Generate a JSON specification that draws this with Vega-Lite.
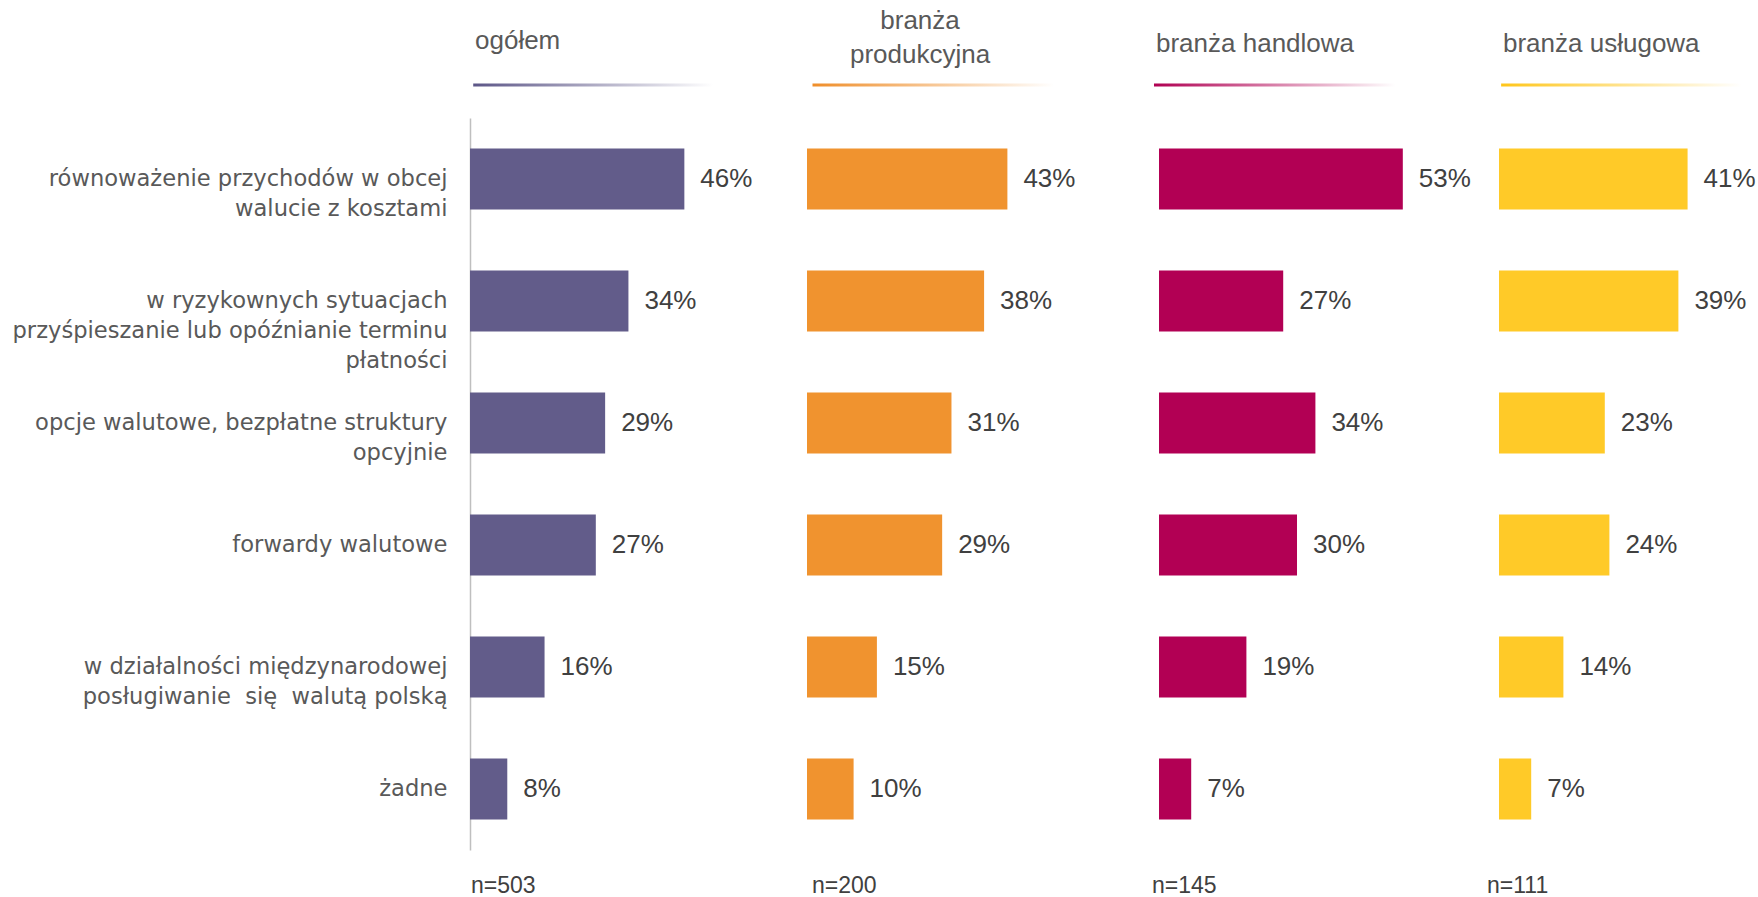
{
  "$schema": "https://vega.github.io/schema/vega-lite/v6.json",
  "background": "white",
  "padding": {"left": 12, "top": 7, "right": 0, "bottom": 0},
  "spacing": 0,
  "config": {"view": {"stroke": null}, "font": "Liberation Sans"},
  "resolve": {"scale": {"x": "independent"}},
  "datasets": {
    "rows": [
      {"group": "ogółem", "cat": "równoważenie przychodów w obcej\nwalucie z kosztami", "value": 0.46},
      {"group": "ogółem", "cat": "w ryzykownych sytuacjach\nprzyśpieszanie lub opóźnianie terminu\npłatności", "value": 0.34},
      {"group": "ogółem", "cat": "opcje walutowe, bezpłatne struktury\nopcyjnie", "value": 0.29},
      {"group": "ogółem", "cat": "forwardy walutowe", "value": 0.27},
      {"group": "ogółem", "cat": "w działalności międzynarodowej\nposługiwanie\u00a0 się\u00a0 walutą polską", "value": 0.16},
      {"group": "ogółem", "cat": "żadne", "value": 0.08},
      {"group": "branża produkcyjna", "cat": "równoważenie przychodów w obcej\nwalucie z kosztami", "value": 0.43},
      {"group": "branża produkcyjna", "cat": "w ryzykownych sytuacjach\nprzyśpieszanie lub opóźnianie terminu\npłatności", "value": 0.38},
      {"group": "branża produkcyjna", "cat": "opcje walutowe, bezpłatne struktury\nopcyjnie", "value": 0.31},
      {"group": "branża produkcyjna", "cat": "forwardy walutowe", "value": 0.29},
      {"group": "branża produkcyjna", "cat": "w działalności międzynarodowej\nposługiwanie\u00a0 się\u00a0 walutą polską", "value": 0.15},
      {"group": "branża produkcyjna", "cat": "żadne", "value": 0.10},
      {"group": "branża handlowa", "cat": "równoważenie przychodów w obcej\nwalucie z kosztami", "value": 0.53},
      {"group": "branża handlowa", "cat": "w ryzykownych sytuacjach\nprzyśpieszanie lub opóźnianie terminu\npłatności", "value": 0.27},
      {"group": "branża handlowa", "cat": "opcje walutowe, bezpłatne struktury\nopcyjnie", "value": 0.34},
      {"group": "branża handlowa", "cat": "forwardy walutowe", "value": 0.30},
      {"group": "branża handlowa", "cat": "w działalności międzynarodowej\nposługiwanie\u00a0 się\u00a0 walutą polską", "value": 0.19},
      {"group": "branża handlowa", "cat": "żadne", "value": 0.07},
      {"group": "branża usługowa", "cat": "równoważenie przychodów w obcej\nwalucie z kosztami", "value": 0.41},
      {"group": "branża usługowa", "cat": "w ryzykownych sytuacjach\nprzyśpieszanie lub opóźnianie terminu\npłatności", "value": 0.39},
      {"group": "branża usługowa", "cat": "opcje walutowe, bezpłatne struktury\nopcyjnie", "value": 0.23},
      {"group": "branża usługowa", "cat": "forwardy walutowe", "value": 0.24},
      {"group": "branża usługowa", "cat": "w działalności międzynarodowej\nposługiwanie\u00a0 się\u00a0 walutą polską", "value": 0.14},
      {"group": "branża usługowa", "cat": "żadne", "value": 0.07}
    ],
    "heads": [
      {"group": "ogółem", "head": "ogółem", "n": "n=503"},
      {"group": "branża produkcyjna", "head": "branża\nprodukcyjna", "n": "n=200"},
      {"group": "branża handlowa", "head": "branża handlowa", "n": "n=145"},
      {"group": "branża usługowa", "head": "branża usługowa", "n": "n=111"}
    ]
  },
  "hconcat": [
    {
      "width": 337, "height": 732,
      "layer": [
        {
          "data": {"name": "rows"},
          "transform": [{"filter": "datum.group === 'ogółem'"}],
          "mark": {"type": "bar", "color": "#625C8A"},
          "encoding": {
            "y": {"field": "cat", "type": "nominal", "sort": null,
              "scale": {"domain": ["równoważenie przychodów w obcej\nwalucie z kosztami", "w ryzykownych sytuacjach\nprzyśpieszanie lub opóźnianie terminu\npłatności", "opcje walutowe, bezpłatne struktury\nopcyjnie", "forwardy walutowe", "w działalności międzynarodowej\nposługiwanie\u00a0 się\u00a0 walutą polską", "żadne"], "paddingInner": 0.5, "paddingOuter": 0.25},
              "axis": {"title": null, "ticks": false, "grid": false, "domainColor": "#BFBFBF", "domainWidth": 1.5, "labelFont": "DejaVu Sans", "labelFontSize": 22.6, "labelColor": "#595959", "labelPadding": 23, "labelLimit": 0, "labelLineHeight": 30, "labelExpr": "split(datum.label, '\\n')"}},
            "x": {"field": "value", "type": "quantitative", "scale": {"domain": [0, 0.7232], "nice": false, "zero": true}, "axis": null}
          }
        },
        {
          "data": {"name": "rows"},
          "transform": [{"filter": "datum.group === 'ogółem'"}],
          "mark": {"type": "text", "align": "left", "baseline": "middle", "dx": 16, "font": "Liberation Sans", "fontSize": 26, "color": "#404040"},
          "encoding": {
            "y": {"field": "cat", "type": "nominal", "sort": null, "axis": {"title": null, "ticks": false, "grid": false, "domainColor": "#BFBFBF", "domainWidth": 1.5, "labelFont": "DejaVu Sans", "labelFontSize": 22.6, "labelColor": "#595959", "labelPadding": 23, "labelLimit": 0, "labelLineHeight": 30, "labelExpr": "split(datum.label, '\\n')"}},
            "x": {"field": "value", "type": "quantitative", "axis": null},
            "text": {"field": "value", "type": "quantitative", "format": ".0%"}
          }
        },
        {
          "data": {"name": "heads"},
          "transform": [{"filter": "datum.group === 'ogółem'"}],
          "mark": {"type": "text", "align": "left", "baseline": "middle", "dx": 5, "font": "Liberation Sans", "fontSize": 26, "color": "#595959", "lineBreak": "\n", "lineHeight": 34},
          "encoding": {
            "y": {"datum": "równoważenie przychodów w obcej\nwalucie z kosztami", "type": "nominal", "bandPosition": -1.762, "axis": {"title": null, "ticks": false, "grid": false, "domainColor": "#BFBFBF", "domainWidth": 1.5, "labelFont": "DejaVu Sans", "labelFontSize": 22.6, "labelColor": "#595959", "labelPadding": 23, "labelLimit": 0, "labelLineHeight": 30, "labelExpr": "split(datum.label, '\\n')"}},
            "x": {"datum": 0, "type": "quantitative", "axis": null},
            "text": {"field": "head", "type": "nominal"}
          }
        },
        {
          "data": {"name": "heads"},
          "transform": [{"filter": "datum.group === 'ogółem'"}],
          "mark": {"type": "rect", "fill": {"gradient": "linear", "x1": 0, "x2": 1, "y1": 0, "y2": 0, "stops": [{"offset": 0, "color": "#5C5687"}, {"offset": 1, "color": "#ffffff"}]}},
          "encoding": {
            "y": {"datum": "równoważenie przychodów w obcej\nwalucie z kosztami", "type": "nominal", "bandPosition": -1.066, "axis": {"title": null, "ticks": false, "grid": false, "domainColor": "#BFBFBF", "domainWidth": 1.5, "labelFont": "DejaVu Sans", "labelFontSize": 22.6, "labelColor": "#595959", "labelPadding": 23, "labelLimit": 0, "labelLineHeight": 30, "labelExpr": "split(datum.label, '\\n')"}},
            "y2": {"datum": "równoważenie przychodów w obcej\nwalucie z kosztami", "bandPosition": -1.016},
            "x": {"datum": 0.0069, "type": "quantitative", "axis": null},
            "x2": {"datum": 0.5215}
          }
        },
        {
          "data": {"name": "heads"},
          "transform": [{"filter": "datum.group === 'ogółem'"}],
          "mark": {"type": "text", "align": "left", "baseline": "middle", "dx": 1, "font": "Liberation Sans", "fontSize": 23, "color": "#404040"},
          "encoding": {
            "y": {"datum": "żadne", "type": "nominal", "bandPosition": 2.082, "axis": {"title": null, "ticks": false, "grid": false, "domainColor": "#BFBFBF", "domainWidth": 1.5, "labelFont": "DejaVu Sans", "labelFontSize": 22.6, "labelColor": "#595959", "labelPadding": 23, "labelLimit": 0, "labelLineHeight": 30, "labelExpr": "split(datum.label, '\\n')"}},
            "x": {"datum": 0, "type": "quantitative", "axis": null},
            "text": {"field": "n", "type": "nominal"}
          }
        }
      ]
    },
    {
      "width": 345, "height": 732,
      "layer": [
        {
          "data": {"name": "rows"},
          "transform": [{"filter": "datum.group === 'branża produkcyjna'"}],
          "mark": {"type": "bar", "color": "#F0932F"},
          "encoding": {
            "y": {"field": "cat", "type": "nominal", "sort": null,
              "scale": {"domain": ["równoważenie przychodów w obcej\nwalucie z kosztami", "w ryzykownych sytuacjach\nprzyśpieszanie lub opóźnianie terminu\npłatności", "opcje walutowe, bezpłatne struktury\nopcyjnie", "forwardy walutowe", "w działalności międzynarodowej\nposługiwanie\u00a0 się\u00a0 walutą polską", "żadne"], "paddingInner": 0.5, "paddingOuter": 0.25},
              "axis": null},
            "x": {"field": "value", "type": "quantitative", "scale": {"domain": [0, 0.7403], "nice": false, "zero": true}, "axis": null}
          }
        },
        {
          "data": {"name": "rows"},
          "transform": [{"filter": "datum.group === 'branża produkcyjna'"}],
          "mark": {"type": "text", "align": "left", "baseline": "middle", "dx": 16, "font": "Liberation Sans", "fontSize": 26, "color": "#404040"},
          "encoding": {
            "y": {"field": "cat", "type": "nominal", "sort": null, "axis": null},
            "x": {"field": "value", "type": "quantitative", "axis": null},
            "text": {"field": "value", "type": "quantitative", "format": ".0%"}
          }
        },
        {
          "data": {"name": "heads"},
          "transform": [{"filter": "datum.group === 'branża produkcyjna'"}],
          "mark": {"type": "text", "align": "center", "baseline": "middle", "font": "Liberation Sans", "fontSize": 26, "color": "#595959", "lineBreak": "\n", "lineHeight": 34},
          "encoding": {
            "y": {"datum": "równoważenie przychodów w obcej\nwalucie z kosztami", "type": "nominal", "bandPosition": -2.098, "axis": null},
            "x": {"datum": 0.2425, "type": "quantitative", "axis": null},
            "text": {"field": "head", "type": "nominal"}
          }
        },
        {
          "data": {"name": "heads"},
          "transform": [{"filter": "datum.group === 'branża produkcyjna'"}],
          "mark": {"type": "rect", "fill": {"gradient": "linear", "x1": 0, "x2": 1, "y1": 0, "y2": 0, "stops": [{"offset": 0, "color": "#EF8E2A"}, {"offset": 1, "color": "#ffffff"}]}},
          "encoding": {
            "y": {"datum": "równoważenie przychodów w obcej\nwalucie z kosztami", "type": "nominal", "bandPosition": -1.066, "axis": null},
            "y2": {"datum": "równoważenie przychodów w obcej\nwalucie z kosztami", "bandPosition": -1.016},
            "x": {"datum": 0.0118, "type": "quantitative", "axis": null},
            "x2": {"datum": 0.530}
          }
        },
        {
          "data": {"name": "heads"},
          "transform": [{"filter": "datum.group === 'branża produkcyjna'"}],
          "mark": {"type": "text", "align": "left", "baseline": "middle", "dx": 5, "font": "Liberation Sans", "fontSize": 23, "color": "#404040"},
          "encoding": {
            "y": {"datum": "żadne", "type": "nominal", "bandPosition": 2.082, "axis": null},
            "x": {"datum": 0, "type": "quantitative", "axis": null},
            "text": {"field": "n", "type": "nominal"}
          }
        }
      ]
    },
    {
      "width": 328, "height": 732,
      "layer": [
        {
          "data": {"name": "rows"},
          "transform": [{"filter": "datum.group === 'branża handlowa'"}],
          "mark": {"type": "bar", "color": "#B20054"},
          "encoding": {
            "y": {"field": "cat", "type": "nominal", "sort": null,
              "scale": {"domain": ["równoważenie przychodów w obcej\nwalucie z kosztami", "w ryzykownych sytuacjach\nprzyśpieszanie lub opóźnianie terminu\npłatności", "opcje walutowe, bezpłatne struktury\nopcyjnie", "forwardy walutowe", "w działalności międzynarodowej\nposługiwanie\u00a0 się\u00a0 walutą polską", "żadne"], "paddingInner": 0.5, "paddingOuter": 0.25},
              "axis": null},
            "x": {"field": "value", "type": "quantitative", "scale": {"domain": [0, 0.7130], "nice": false, "zero": true}, "axis": null}
          }
        },
        {
          "data": {"name": "rows"},
          "transform": [{"filter": "datum.group === 'branża handlowa'"}],
          "mark": {"type": "text", "align": "left", "baseline": "middle", "dx": 16, "font": "Liberation Sans", "fontSize": 26, "color": "#404040"},
          "encoding": {
            "y": {"field": "cat", "type": "nominal", "sort": null, "axis": null},
            "x": {"field": "value", "type": "quantitative", "axis": null},
            "text": {"field": "value", "type": "quantitative", "format": ".0%"}
          }
        },
        {
          "data": {"name": "heads"},
          "transform": [{"filter": "datum.group === 'branża handlowa'"}],
          "mark": {"type": "text", "align": "left", "baseline": "middle", "dx": -3, "font": "Liberation Sans", "fontSize": 26, "color": "#595959", "lineBreak": "\n", "lineHeight": 34},
          "encoding": {
            "y": {"datum": "równoważenie przychodów w obcej\nwalucie z kosztami", "type": "nominal", "bandPosition": -1.713, "axis": null},
            "x": {"datum": 0, "type": "quantitative", "axis": null},
            "text": {"field": "head", "type": "nominal"}
          }
        },
        {
          "data": {"name": "heads"},
          "transform": [{"filter": "datum.group === 'branża handlowa'"}],
          "mark": {"type": "rect", "fill": {"gradient": "linear", "x1": 0, "x2": 1, "y1": 0, "y2": 0, "stops": [{"offset": 0, "color": "#B00052"}, {"offset": 1, "color": "#ffffff"}]}},
          "encoding": {
            "y": {"datum": "równoważenie przychodów w obcej\nwalucie z kosztami", "type": "nominal", "bandPosition": -1.066, "axis": null},
            "y2": {"datum": "równoważenie przychodów w obcej\nwalucie z kosztami", "bandPosition": -1.016},
            "x": {"datum": -0.0109, "type": "quantitative", "axis": null},
            "x2": {"datum": 0.514}
          }
        },
        {
          "data": {"name": "heads"},
          "transform": [{"filter": "datum.group === 'branża handlowa'"}],
          "mark": {"type": "text", "align": "left", "baseline": "middle", "dx": -7, "font": "Liberation Sans", "fontSize": 23, "color": "#404040"},
          "encoding": {
            "y": {"datum": "żadne", "type": "nominal", "bandPosition": 2.082, "axis": null},
            "x": {"datum": 0, "type": "quantitative", "axis": null},
            "text": {"field": "n", "type": "nominal"}
          }
        }
      ]
    },
    {
      "width": 258, "height": 732,
      "layer": [
        {
          "data": {"name": "rows"},
          "transform": [{"filter": "datum.group === 'branża usługowa'"}],
          "mark": {"type": "bar", "color": "#FFCA28"},
          "encoding": {
            "y": {"field": "cat", "type": "nominal", "sort": null,
              "scale": {"domain": ["równoważenie przychodów w obcej\nwalucie z kosztami", "w ryzykownych sytuacjach\nprzyśpieszanie lub opóźnianie terminu\npłatności", "opcje walutowe, bezpłatne struktury\nopcyjnie", "forwardy walutowe", "w działalności międzynarodowej\nposługiwanie\u00a0 się\u00a0 walutą polską", "żadne"], "paddingInner": 0.5, "paddingOuter": 0.25},
              "axis": null},
            "x": {"field": "value", "type": "quantitative", "scale": {"domain": [0, 0.5609], "nice": false, "zero": true}, "axis": null}
          }
        },
        {
          "data": {"name": "rows"},
          "transform": [{"filter": "datum.group === 'branża usługowa'"}],
          "mark": {"type": "text", "align": "left", "baseline": "middle", "dx": 16, "font": "Liberation Sans", "fontSize": 26, "color": "#404040"},
          "encoding": {
            "y": {"field": "cat", "type": "nominal", "sort": null, "axis": null},
            "x": {"field": "value", "type": "quantitative", "axis": null},
            "text": {"field": "value", "type": "quantitative", "format": ".0%"}
          }
        },
        {
          "data": {"name": "heads"},
          "transform": [{"filter": "datum.group === 'branża usługowa'"}],
          "mark": {"type": "text", "align": "left", "baseline": "middle", "dx": 4, "font": "Liberation Sans", "fontSize": 26, "color": "#595959", "lineBreak": "\n", "lineHeight": 34},
          "encoding": {
            "y": {"datum": "równoważenie przychodów w obcej\nwalucie z kosztami", "type": "nominal", "bandPosition": -1.713, "axis": null},
            "x": {"datum": 0, "type": "quantitative", "axis": null},
            "text": {"field": "head", "type": "nominal"}
          }
        },
        {
          "data": {"name": "heads"},
          "transform": [{"filter": "datum.group === 'branża usługowa'"}],
          "mark": {"type": "rect", "fill": {"gradient": "linear", "x1": 0, "x2": 1, "y1": 0, "y2": 0, "stops": [{"offset": 0, "color": "#FFC61A"}, {"offset": 1, "color": "#ffffff"}]}},
          "encoding": {
            "y": {"datum": "równoważenie przychodów w obcej\nwalucie z kosztami", "type": "nominal", "bandPosition": -1.066, "axis": null},
            "y2": {"datum": "równoważenie przychodów w obcej\nwalucie z kosztami", "bandPosition": -1.016},
            "x": {"datum": 0.0046, "type": "quantitative", "axis": null},
            "x2": {"datum": 0.527}
          }
        },
        {
          "data": {"name": "heads"},
          "transform": [{"filter": "datum.group === 'branża usługowa'"}],
          "mark": {"type": "text", "align": "left", "baseline": "middle", "dx": -12, "font": "Liberation Sans", "fontSize": 23, "color": "#404040"},
          "encoding": {
            "y": {"datum": "żadne", "type": "nominal", "bandPosition": 2.082, "axis": null},
            "x": {"datum": 0, "type": "quantitative", "axis": null},
            "text": {"field": "n", "type": "nominal"}
          }
        }
      ]
    }
  ]
}
